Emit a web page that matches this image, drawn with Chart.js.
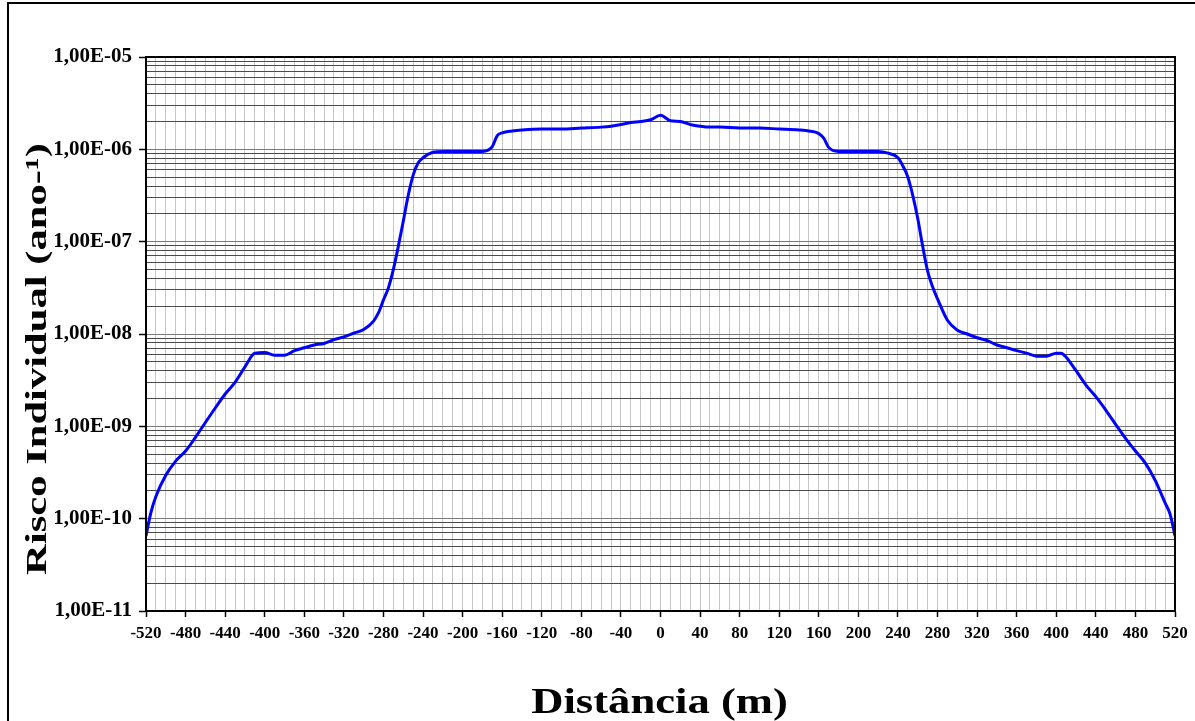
<!DOCTYPE html>
<html>
<head>
<meta charset="utf-8">
<script src="https://cdn.jsdelivr.net/npm/chart.js@4/dist/chart.umd.min.js"></script>
<style>
  html, body { margin: 0; padding: 0; background: #ffffff; }
  #wrap { width: 1195px; height: 721px; position: relative; }
</style>
</head>
<body>
<div id="wrap"><canvas id="c"></canvas></div>
<script>
// ---- data ----
const distances = [
  -520, -515, -510, -500, -490, -480, -470, -460, -450, -440, -430, -420, -410, -400,
  -390, -380, -370, -360, -350, -340, -330, -320, -310, -300, -290, -285, -280, -275,
  -270, -265, -260, -255, -250, -245, -240, -230, -220, -200, -180, -170, -165, -160,
  -150, -140, -120, -100, -80, -60, -50, -40, -30, -20, -10, 0,
  10, 20, 30, 40, 50, 60, 80, 100, 120, 140, 150, 160, 165, 170, 180, 200, 220, 230,
  240, 245, 250, 255, 260, 265, 270, 275, 280, 290, 300, 310, 320, 330, 340, 350,
  360, 370, 380, 390, 400, 405, 410, 420, 430, 440, 450, 460, 470, 480, 490, 500,
  510, 515, 520
];
const risk = [
  6.5e-11, 1.17e-10, 1.74e-10, 2.95e-10, 4.2e-10, 5.4e-10, 7.6e-10, 1.1e-9, 1.58e-9, 2.24e-9, 3.0e-9, 4.4e-9, 6.2e-9, 6.3e-9,
  5.9e-9, 5.9e-9, 6.6e-9, 7.1e-9, 7.6e-9, 7.9e-9, 8.7e-9, 9.3e-9, 1.02e-8, 1.12e-8, 1.38e-8, 1.7e-8, 2.34e-8, 3.16e-8,
  5.0e-8, 8.9e-8, 1.66e-7, 3.16e-7, 5.25e-7, 7.1e-7, 8.1e-7, 9.3e-7, 9.5e-7, 9.5e-7, 9.5e-7, 1.07e-6, 1.41e-6, 1.51e-6,
  1.58e-6, 1.62e-6, 1.66e-6, 1.66e-6, 1.70e-6, 1.74e-6, 1.78e-6, 1.86e-6, 1.95e-6, 2.0e-6, 2.09e-6, 2.34e-6,
  2.04e-6, 2.0e-6, 1.86e-6, 1.78e-6, 1.74e-6, 1.74e-6, 1.70e-6, 1.70e-6, 1.66e-6, 1.62e-6, 1.58e-6, 1.48e-6, 1.32e-6, 1.05e-6, 9.5e-7, 9.5e-7, 9.5e-7, 9.1e-7,
  8.1e-7, 6.6e-7, 5.0e-7, 3.16e-7, 1.78e-7, 8.9e-8, 4.8e-8, 3.24e-8, 2.4e-8, 1.41e-8, 1.1e-8, 1.0e-8, 9.1e-9, 8.5e-9, 7.6e-9, 7.1e-9,
  6.6e-9, 6.2e-9, 5.75e-9, 5.75e-9, 6.2e-9, 6.2e-9, 5.6e-9, 4.0e-9, 2.8e-9, 2.1e-9, 1.5e-9, 1.05e-9, 7.4e-10, 5.4e-10, 4.0e-10, 2.6e-10,
  1.48e-10, 1.12e-10, 6.5e-11
];
const xTickLabels = [-520, -480, -440, -400, -360, -320, -280, -240, -200, -160, -120, -80, -40, 0,
  40, 80, 120, 160, 200, 240, 280, 320, 360, 400, 440, 480, 520];
const yDecades = [1e-11, 1e-10, 1e-9, 1e-8, 1e-7, 1e-6, 1e-5];
const yTickLabels = ['1,00E-11', '1,00E-10', '1,00E-09', '1,00E-08', '1,00E-07', '1,00E-06', '1,00E-05'];
const xTitle = 'Distância (m)';
const yTitle = 'Risco Individual (ano-¹)';

// ---- helpers ----
const SERIF = '"Liberation Serif", "Times New Roman", serif';
function decadeIndex(v) {
  for (let i = 0; i < yDecades.length; i++) {
    if (Math.abs(v - yDecades[i]) / yDecades[i] < 1e-6) return i;
  }
  return -1;
}

const points = distances.map((d, i) => ({ x: d, y: risk[i] }));

const decorPlugin = {
  id: 'decor',
  beforeDraw(chart) {
    const ctx = chart.ctx;
    ctx.save();
    ctx.fillStyle = '#ffffff';
    ctx.fillRect(0, 0, chart.width, chart.height);
    ctx.restore();
  },
  afterDraw(chart) {
    const ctx = chart.ctx;
    const a = chart.chartArea;
    ctx.save();
    // outer frame
    ctx.strokeStyle = '#000000';
    ctx.lineWidth = 2;
    ctx.beginPath();
    ctx.moveTo(8, chart.height + 5);
    ctx.lineTo(8, 3);
    ctx.lineTo(chart.width + 5, 3);
    ctx.stroke();
    // plot-area border
    ctx.lineWidth = 2;
    ctx.strokeRect(a.left, a.top, a.right - a.left, a.bottom - a.top);
    // axis titles (real text)
    ctx.fillStyle = '#000000';
    ctx.font = 'bold 36px ' + SERIF;
    ctx.textAlign = 'center';
    ctx.textBaseline = 'alphabetic';
    ctx.save();
    ctx.translate((a.left + a.right) / 2 - 1, 713);
    ctx.scale(1.24, 1);
    ctx.fillText(xTitle, 0, 0);
    ctx.restore();
    ctx.save();
    ctx.translate(46, 359);
    ctx.rotate(-Math.PI / 2);
    ctx.scale(1.42, 1);
    ctx.font = 'bold 30px ' + SERIF;
    ctx.fillText(yTitle, 0, 0);
    ctx.restore();
    ctx.restore();
  }
};

new Chart(document.getElementById('c'), {
  type: 'line',
  data: {
    datasets: [{
      data: points,
      borderColor: '#0000ff',
      borderWidth: 3,
      pointRadius: 0,
      fill: false,
      cubicInterpolationMode: 'monotone'
    }]
  },
  options: {
    responsive: true,
    maintainAspectRatio: false,
    animation: false,
    events: [],
    layout: { padding: { left: 0, top: 57, right: 20, bottom: 0 } },
    plugins: { legend: { display: false }, tooltip: { enabled: false }, title: { display: false } },
    scales: {
      x: {
        type: 'linear',
        min: -520,
        max: 520,
        afterBuildTicks(scale) {
          const t = [];
          for (let v = -520; v <= 520; v += 10) t.push({ value: v });
          scale.ticks = t;
        },
        afterFit(scale) { scale.height = 110; },
        ticks: {
          autoSkip: false,
          maxRotation: 0,
          minRotation: 0,
          padding: 6,
          color: '#000000',
          font: { family: SERIF, size: 17, weight: 'bold' },
          callback(value) { return xTickLabels.includes(value) ? String(value) : ''; }
        },
        grid: {
          color: '#c6c6c6',
          lineWidth: 1,
          drawTicks: true,
          tickLength: 6,
          tickColor(ctx) { return (ctx.tick && xTickLabels.includes(ctx.tick.value)) ? '#000000' : 'rgba(0,0,0,0)'; },
          tickWidth: 1.5
        },
        border: { display: true, color: '#000000', width: 2 }
      },
      y: {
        type: 'logarithmic',
        min: 1e-11,
        max: 1e-5,
        afterBuildTicks(scale) {
          const t = [];
          for (let i = 0; i < yDecades.length - 1; i++) {
            for (let m = 1; m <= 9; m++) t.push({ value: m * yDecades[i] });
          }
          t.push({ value: yDecades[yDecades.length - 1] });
          scale.ticks = t;
        },
        afterFit(scale) { scale.width = 146; },
        ticks: {
          autoSkip: false,
          padding: 7,
          color: '#000000',
          font: { family: SERIF, size: 21, weight: 'bold' },
          callback(value) {
            const i = decadeIndex(value);
            return i >= 0 ? yTickLabels[i] : '';
          }
        },
        grid: {
          color(ctx) {
            if (!ctx.tick) return '#555555';
            return decadeIndex(ctx.tick.value) >= 0 ? '#7a7a7a' : '#4a4a4a';
          },
          lineWidth: 1,
          drawTicks: true,
          tickLength: 7,
          tickColor(ctx) { return (ctx.tick && decadeIndex(ctx.tick.value) >= 0) ? '#000000' : 'rgba(0,0,0,0)'; },
          tickWidth: 1.5
        },
        border: { display: true, color: '#000000', width: 2 }
      }
    }
  },
  plugins: [decorPlugin]
});
</script>
</body>
</html>
